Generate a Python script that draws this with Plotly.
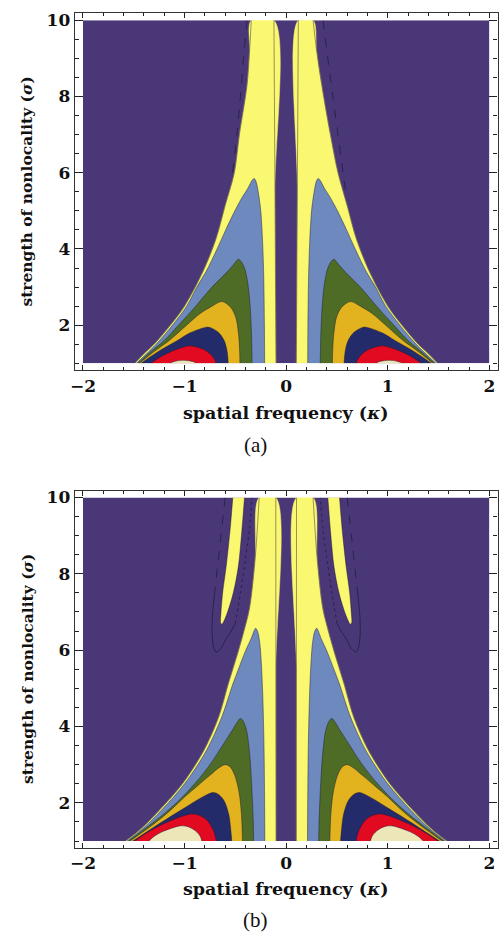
import plotly.graph_objects as go

W, H = 499, 935

# ---------------- axes / text ----------------
K_LIM = [-2.0, 2.0]
S_LIM = [1.0, 10.0]
K_PAD = 0.08
S_PAD = 0.18
X_TICK_VALS = [-2, -1, 0, 1, 2]
X_TICK_TEXT = ["\u22122", "\u22121", "0", "1", "2"]
Y_TICK_VALS = [2, 4, 6, 8, 10]
Y_TICK_TEXT = ["2", "4", "6", "8", "10"]
X_MINOR_STEP = 0.2
Y_MINOR_STEP = 0.5
X_TITLE = "spatial frequency (<i>\u03ba</i>)"
Y_TITLE = "strength of nonlocality (<i>\u03c3</i>)"
PANEL_LABELS = ["(a)", "(b)"]

COLORS = dict(bg="#4a3778", yellow="#faf770", blue="#6d89bd", green="#4e6c25",
              gold="#e3b21f", navy="#232b6b", red="#e20a20", cream="#ece6b9")

# ---------------- panel (a) : left-side contour boundaries (kappa, sigma) ----------------
A_YEL_OUT_K = [-1.49, -1.40, -1.30, -1.14, -1.00, -0.82, -0.69, -0.60, -0.51, -0.46, -0.385, -0.36, -0.343]
A_YEL_OUT_S = [1.0, 1.25, 1.5, 2.0, 2.5, 3.4, 4.27, 5.14, 6.0, 7.0, 8.3, 9.2, 10.0]
A_YEL_OUT_R_K = [1.49, 1.40, 1.30, 1.14, 1.00, 0.82, 0.69, 0.60, 0.51, 0.435, 0.35, 0.30, 0.265]
A_YEL_OUT_R_S = [1.0, 1.25, 1.5, 2.0, 2.5, 3.4, 4.27, 5.14, 6.0, 7.0, 8.3, 9.2, 10.0]
A_YEL_IN_K = [-0.12, -0.11, -0.10]
A_YEL_IN_S = [10.0, 5.5, 1.0]

A_BLUE_K = [-1.475, -1.28, -1.12, -0.98, -0.88, -0.79, -0.68, -0.595, -0.505, -0.445, -0.375, -0.335, -0.315,
            -0.298, -0.275, -0.25, -0.232, -0.22, -0.214, -0.212]
A_BLUE_S = [1.0, 1.5, 2.0, 2.5, 3.0, 3.4, 4.0, 4.5, 5.0, 5.3, 5.6, 5.8, 5.85,
            5.78, 5.5, 5.0, 4.2, 3.2, 2.0, 1.0]

A_GREEN_K = [-1.46, -1.335, -1.20, -1.06, -0.89, -0.73, -0.58, -0.515, -0.47,
             -0.445, -0.41, -0.38, -0.357, -0.343, -0.335]
A_GREEN_S = [1.0, 1.3, 1.6, 2.0, 2.5, 3.0, 3.4, 3.6, 3.73,
             3.68, 3.5, 3.15, 2.6, 1.9, 1.0]

A_GOLD_K = [-1.445, -1.305, -1.15, -0.98, -0.85, -0.73, -0.64,
            -0.60, -0.54, -0.495, -0.47, -0.458, -0.455]
A_GOLD_S = [1.0, 1.3, 1.6, 2.0, 2.3, 2.5, 2.62,
            2.59, 2.45, 2.2, 1.8, 1.35, 1.0]

A_NAVY_K = [-1.43, -1.265, -1.07, -0.945, -0.78,
            -0.74, -0.67, -0.61, -0.58, -0.57]
A_NAVY_S = [1.0, 1.3, 1.6, 1.8, 1.95,
            1.93, 1.82, 1.6, 1.3, 1.0]

A_RED_K = [-1.33, -1.25, -1.14, -1.04, -0.95,
           -0.90, -0.80, -0.73, -0.70, -0.69]
A_RED_S = [1.0, 1.15, 1.3, 1.4, 1.46,
           1.44, 1.35, 1.2, 1.08, 1.0]

A_CREAM_K = [-1.15, -1.09, -1.02, -0.95, -0.90, -0.89]
A_CREAM_S = [1.0, 1.055, 1.08, 1.065, 1.03, 1.0]

A_DASH_L_K = [-0.385, -0.42, -0.45, -0.485, -0.53]
A_DASH_L_S = [10.0, 9.0, 8.0, 7.0, 5.9]
A_DASH_R_K = [0.363, 0.41, 0.46, 0.51, 0.56, 0.59]
A_DASH_R_S = [10.0, 9.0, 8.0, 7.0, 6.0, 5.4]

# ---------------- panel (b) : left-side contour boundaries ----------------
B_YEL_OUT_K = [-1.58, -1.445, -1.25, -1.02, -0.81, -0.665, -0.57, -0.525, -0.47, -0.415, -0.36, -0.305, -0.265]
B_YEL_OUT_S = [1.0, 1.28, 1.8, 2.5, 3.37, 4.24, 5.11, 5.5, 5.98, 6.5, 7.1, 8.4, 10.0]
B_YEL_IN_K = [-0.102, -0.101, -0.10]
B_YEL_IN_S = [10.0, 5.5, 1.0]

B_ISLAND_K = [-0.525, -0.55, -0.59, -0.625, -0.642, -0.645, -0.632, -0.59, -0.52, -0.47, -0.44, -0.41]
B_ISLAND_S = [10.0, 9.2, 8.2, 7.5, 6.95, 6.72, 6.68, 6.9, 7.5, 8.2, 9.0, 10.0]

B_BLUE_K = [-1.565, -1.43, -1.23, -1.0, -0.785, -0.635, -0.525, -0.47, -0.40, -0.345, -0.30,
            -0.28, -0.26, -0.245, -0.23, -0.218, -0.212, -0.21]
B_BLUE_S = [1.0, 1.28, 1.8, 2.5, 3.37, 4.24, 5.11, 5.5, 5.98, 6.3, 6.57,
            6.48, 6.2, 5.7, 4.8, 3.5, 2.0, 1.0]

B_GREEN_K = [-1.55, -1.40, -1.23, -1.06, -0.90, -0.75, -0.615, -0.53, -0.48, -0.45,
             -0.425, -0.39, -0.36, -0.34, -0.325, -0.32]
B_GREEN_S = [1.0, 1.3, 1.65, 2.05, 2.5, 3.0, 3.55, 3.9, 4.12, 4.21,
             4.15, 3.9, 3.3, 2.5, 1.6, 1.0]

B_GOLD_K = [-1.535, -1.30, -1.14, -1.00, -0.87, -0.75, -0.66, -0.60,
            -0.555, -0.51, -0.465, -0.44, -0.43]
B_GOLD_S = [1.0, 1.45, 1.8, 2.15, 2.45, 2.72, 2.92, 3.0,
            2.95, 2.75, 2.3, 1.7, 1.0]

B_NAVY_K = [-1.51, -1.31, -1.15, -1.01, -0.89, -0.79, -0.72,
            -0.665, -0.61, -0.565, -0.545, -0.535]
B_NAVY_S = [1.0, 1.35, 1.62, 1.85, 2.05, 2.2, 2.27,
            2.22, 2.05, 1.7, 1.3, 1.0]

B_RED_K = [-1.49, -1.38, -1.26, -1.12, -1.01, -0.93,
           -0.86, -0.78, -0.72, -0.695, -0.69]
B_RED_S = [1.0, 1.2, 1.38, 1.55, 1.66, 1.71,
           1.68, 1.55, 1.3, 1.1, 1.0]

B_CREAM_K = [-1.35, -1.30, -1.22, -1.11, -1.03, -0.96, -0.89, -0.845, -0.83]
B_CREAM_S = [1.0, 1.12, 1.24, 1.35, 1.40, 1.37, 1.26, 1.12, 1.0]

# U-shaped contour around the island: outer arm (dashed), bottom (solid), inner arm (dotted)
B_U_K = [-0.60, -0.65, -0.70, -0.725, -0.728, -0.715, -0.69, -0.64, -0.59, -0.54, -0.50, -0.45, -0.40, -0.36, -0.337]
B_U_S = [10.0, 8.8, 7.6, 6.9, 6.4, 6.1, 5.95, 6.05, 6.3, 6.5, 6.7, 7.5, 8.4, 9.2, 10.0]
B_U_SPLIT = [3, 11]

# ---------------- figure ----------------
EDGE = "rgba(25,20,45,0.55)"
LINE_DARK = "rgba(25,20,50,0.7)"


def mirror(vals):
    return [-v for v in vals]


fig = go.Figure()


def region(ax, k, s, color, edge=True):
    fig.add_trace(go.Scatter(
        x=k, y=s, xaxis=ax[0], yaxis=ax[1], mode="lines", fill="toself", fillcolor=color,
        line=dict(color=EDGE if edge else color, width=0.8 if edge else 0.5, shape="spline", smoothing=0.9),
        hoverinfo="skip", showlegend=False))


def curve(ax, k, s, color=EDGE, width=0.8, dash="solid"):
    fig.add_trace(go.Scatter(
        x=k, y=s, xaxis=ax[0], yaxis=ax[1], mode="lines",
        line=dict(color=color, width=width, dash=dash, shape="spline", smoothing=0.9),
        hoverinfo="skip", showlegend=False))


def background(ax):
    fig.add_trace(go.Scatter(
        x=[K_LIM[0], K_LIM[1], K_LIM[1], K_LIM[0]], y=[S_LIM[0], S_LIM[0], S_LIM[1], S_LIM[1]],
        xaxis=ax[0], yaxis=ax[1], mode="lines", fill="toself", fillcolor=COLORS["bg"],
        line=dict(width=0, color=COLORS["bg"]), hoverinfo="skip", showlegend=False))


def padding(ax):
    k0, k1 = K_LIM[0] - K_PAD, K_LIM[1] + K_PAD
    s0, s1 = S_LIM[0] - S_PAD, S_LIM[1] + S_PAD
    rects = [([k0, K_LIM[0]], [s0, s1]), ([K_LIM[1], k1], [s0, s1]),
             ([k0, k1], [s0, S_LIM[0]]), ([k0, k1], [S_LIM[1], s1])]
    for (xa, xb), (ya, yb) in rects:
        fig.add_trace(go.Scatter(
            x=[xa, xb, xb, xa], y=[ya, ya, yb, yb], xaxis=ax[0], yaxis=ax[1], mode="lines",
            fill="toself", fillcolor="white", line=dict(width=0, color="white"),
            hoverinfo="skip", showlegend=False))


# ---- panel (a)
axA = ("x", "y")
background(axA)
region(axA, A_YEL_OUT_K + A_YEL_IN_K, A_YEL_OUT_S + A_YEL_IN_S, COLORS["yellow"], edge=False)
region(axA, A_YEL_OUT_R_K + mirror(A_YEL_IN_K), A_YEL_OUT_R_S + A_YEL_IN_S, COLORS["yellow"], edge=False)
for kk, ss in [(A_YEL_OUT_K, A_YEL_OUT_S), (A_YEL_IN_K, A_YEL_IN_S),
               (A_YEL_OUT_R_K, A_YEL_OUT_R_S), (mirror(A_YEL_IN_K), A_YEL_IN_S)]:
    curve(axA, kk, ss)
for (kk, ss), col in [((A_BLUE_K, A_BLUE_S), "blue"), ((A_GREEN_K, A_GREEN_S), "green"),
                      ((A_GOLD_K, A_GOLD_S), "gold"), ((A_NAVY_K, A_NAVY_S), "navy"),
                      ((A_RED_K, A_RED_S), "red"), ((A_CREAM_K, A_CREAM_S), "cream")]:
    region(axA, kk, ss, COLORS[col])
    region(axA, mirror(kk), ss, COLORS[col])
curve(axA, A_DASH_L_K, A_DASH_L_S, LINE_DARK, 0.9, "dash")
curve(axA, A_DASH_R_K, A_DASH_R_S, LINE_DARK, 0.9, "dash")
padding(axA)

# ---- panel (b)
axB = ("x2", "y2")
background(axB)
i1, i2 = B_U_SPLIT
for sgn in (1, -1):
    ku = B_U_K if sgn == 1 else mirror(B_U_K)
    curve(axB, ku[:i1], B_U_S[:i1], LINE_DARK, 0.9, "dash")
    curve(axB, ku[i1 - 1:i2], B_U_S[i1 - 1:i2], LINE_DARK, 0.9, "solid")
    curve(axB, ku[i2 - 1:], B_U_S[i2 - 1:], LINE_DARK, 0.9, "dot")
region(axB, B_ISLAND_K, B_ISLAND_S, COLORS["yellow"])
region(axB, mirror(B_ISLAND_K), B_ISLAND_S, COLORS["yellow"])
region(axB, B_YEL_OUT_K + B_YEL_IN_K, B_YEL_OUT_S + B_YEL_IN_S, COLORS["yellow"], edge=False)
region(axB, mirror(B_YEL_OUT_K) + mirror(B_YEL_IN_K), B_YEL_OUT_S + B_YEL_IN_S, COLORS["yellow"], edge=False)
for kk, ss in [(B_YEL_OUT_K, B_YEL_OUT_S), (B_YEL_IN_K, B_YEL_IN_S),
               (mirror(B_YEL_OUT_K), B_YEL_OUT_S), (mirror(B_YEL_IN_K), B_YEL_IN_S)]:
    curve(axB, kk, ss)
for (kk, ss), col in [((B_BLUE_K, B_BLUE_S), "blue"), ((B_GREEN_K, B_GREEN_S), "green"),
                      ((B_GOLD_K, B_GOLD_S), "gold"), ((B_NAVY_K, B_NAVY_S), "navy"),
                      ((B_RED_K, B_RED_S), "red"), ((B_CREAM_K, B_CREAM_S), "cream")]:
    region(axB, kk, ss, COLORS[col])
    region(axB, mirror(kk), ss, COLORS[col])
padding(axB)

# ---------------- layout ----------------
TICKFONT = dict(family="DejaVu Serif", size=17, color="#111", weight="bold")
X_DOMAIN = [70.5 / W, 497.5 / W]
Y_DOMAINS = [[1 - 368.4 / H, 1 - 10.4 / H], [1 - 847.6 / H, 1 - 489.1 / H]]


def xaxis_cfg(anchor):
    return dict(domain=X_DOMAIN, range=[K_LIM[0] - K_PAD, K_LIM[1] + K_PAD], anchor=anchor,
                tickmode="array", tickvals=X_TICK_VALS, ticktext=X_TICK_TEXT,
                ticks="inside", ticklen=5, tickwidth=1, tickcolor="#222",
                showline=True, linewidth=1.2, linecolor="#333", mirror="allticks",
                showgrid=False, zeroline=False, tickfont=TICKFONT, fixedrange=True,
                ticklabeloverflow="allow",
                minor=dict(dtick=X_MINOR_STEP, tick0=0, ticks="inside", ticklen=3,
                           tickwidth=1, tickcolor="#222", showgrid=False))


def yaxis_cfg(domain, anchor):
    return dict(domain=domain, range=[S_LIM[0] - S_PAD, S_LIM[1] + S_PAD], anchor=anchor,
                tickmode="array", tickvals=Y_TICK_VALS, ticktext=Y_TICK_TEXT,
                ticks="inside", ticklen=8, tickwidth=1, tickcolor="#222",
                showline=True, linewidth=1.2, linecolor="#333", mirror="allticks",
                showgrid=False, zeroline=False, tickfont=TICKFONT, fixedrange=True,
                ticklabeloverflow="allow",
                minor=dict(dtick=Y_MINOR_STEP, tick0=0, ticks="inside", ticklen=4,
                           tickwidth=1, tickcolor="#222", showgrid=False))


annotations = []
for i, (xt_y, lab_y) in enumerate([(411.7, 443.0), (889.0, 920.0)]):
    dom = Y_DOMAINS[i]
    annotations.append(dict(text="<b>" + X_TITLE + "</b>", xref="paper", yref="paper",
                            x=284.0 / W, y=1 - xt_y / H, xanchor="center", yanchor="middle",
                            showarrow=False, font=dict(family="DejaVu Serif", size=17.5, color="#111")))
    annotations.append(dict(text="<b>" + Y_TITLE + "</b>", xref="paper", yref="paper",
                            x=22.0 / W, y=(dom[0] + dom[1]) / 2, xanchor="center", yanchor="middle",
                            textangle=-90, showarrow=False,
                            font=dict(family="DejaVu Serif", size=15.5, color="#111")))
    annotations.append(dict(text=PANEL_LABELS[i], xref="paper", yref="paper",
                            x=253.0 / W, y=1 - lab_y / H, xanchor="center", yanchor="middle",
                            showarrow=False, font=dict(family="Liberation Serif", size=21, color="#111")))

fig.update_layout(
    width=W, height=H, margin=dict(l=0, r=0, t=0, b=0),
    paper_bgcolor="white", plot_bgcolor="white", showlegend=False,
    xaxis=xaxis_cfg("y"), yaxis=yaxis_cfg(Y_DOMAINS[0], "x"),
    xaxis2=xaxis_cfg("y2"), yaxis2=yaxis_cfg(Y_DOMAINS[1], "x2"),
    annotations=annotations,
)

fig.write_html("out.html", config={"displayModeBar": False},
               post_script="document.body.style.margin='0px';document.body.style.overflow='hidden';")
